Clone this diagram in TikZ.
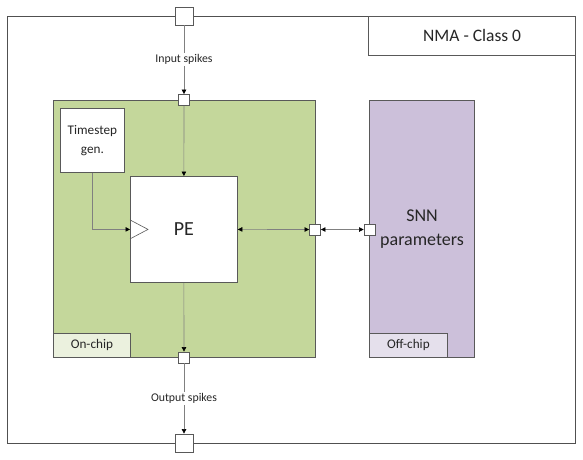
\documentclass[tikz,border=0pt]{standalone}
\usepackage{fontspec}
\setmainfont{Carlito}
\usetikzlibrary{arrows.meta,calc}
\definecolor{chipgreen}{RGB}{196,215,155}
\definecolor{chiplight}{RGB}{235,241,222}
\definecolor{offpurple}{RGB}{204,192,218}
\definecolor{offlight}{RGB}{229,224,236}
\definecolor{edge}{RGB}{89,89,89}
\definecolor{conn}{RGB}{128,128,128}
\definecolor{txt}{RGB}{38,38,38}
\tikzset{
  box/.style={draw=edge, line width=0.8pt, rectangle, inner sep=0pt, text=txt},
  port/.style={draw=edge, line width=0.8pt, fill=white, rectangle, inner sep=0pt, minimum width=#1, minimum height=#1},
  conline/.style={draw=conn, line width=0.6pt, -{Triangle[length=4.5pt,width=4.5pt]}, color=conn},
  tipblack/.style={arrows={-{Triangle[length=4.5pt,width=4.5pt,color=black]}}},
  bothtips/.style={draw=conn, line width=0.6pt, {Triangle[length=4.5pt,width=4.5pt,color=black]}-{Triangle[length=4.5pt,width=4.5pt,color=black]}},
  lbl/.style={fill=white, inner sep=1.5pt, text=txt, font=\fontsize{11.8}{13}\selectfont}
}
\begin{document}
\begin{tikzpicture}[x=1pt,y=-1pt]
\useasboundingbox (0,0) rectangle (583,459);
% outer frame
\node[box, draw=edge!90!black, line width=1pt, anchor=north west, minimum width=568.5pt, minimum height=427pt] (frame) at (6.5,15.5) {};
\node[box, line width=0.8pt, anchor=north east, minimum width=207pt, minimum height=39pt, font=\fontsize{17.5}{20}\selectfont] (nma) at (frame.north east) {NMA - Class 0};
% on-chip region
\node[box, fill=chipgreen, anchor=north west, minimum width=262pt, minimum height=257pt] (green) at (53,100) {};
\node[box, fill=chiplight, anchor=south west, minimum width=77pt, minimum height=24pt, font=\fontsize{13.2}{15}\selectfont] (onchip) at (green.south west) {On-chip};
% off-chip region
\node[box, fill=offpurple, anchor=north west, minimum width=105pt, minimum height=257pt] (purple) at (369,100) {};
\node[box, fill=offlight, anchor=south west, minimum width=78pt, minimum height=24pt, font=\fontsize{13.2}{15}\selectfont] (offchip) at (purple.south west) {Off-chip};
\node[text=txt, align=center, font=\fontsize{18}{24}\selectfont] (snn) at (422,229.5) {SNN\\parameters};
% timestep and PE
\node[box, fill=white, anchor=north west, minimum width=64pt, minimum height=64pt, align=center, font=\fontsize{13.2}{19}\selectfont] (ts) at (60,108) {Timestep\\gen.};
\node[box, fill=white, anchor=north west, minimum width=107pt, minimum height=106pt, font=\fontsize{20}{22}\selectfont] (pe) at (130,176) {PE};
\draw[edge, line width=0.6pt] ($(pe.west)+(0,-9.5)$) -- ++(18,9.5) -- ++(-18,9.5);
% ports
\node[port=18pt] (topport) at (184,16) {};
\node[port=18pt] (botport) at (184,443) {};
\node[port=11pt] (inport) at (184,100) {};
\node[port=11pt] (outport) at (184,357.5) {};
\node[port=11pt] (rport) at (315,229.5) {};
\node[port=11pt] (pport) at (369.5,229.5) {};
% connectors
\draw[conline, tipblack] (topport.south) -- node[lbl] {Input spikes} (inport.north);
\draw[conline, tipblack] (inport.south) -- (pe.north);
\draw[conline, tipblack] (pe.south) -- (outport.north);
\draw[conline, tipblack] (outport.south) -- node[lbl] {Output spikes} (botport.north);
\draw[conline, tipblack] (ts.south) |- (pe.west);
\draw[bothtips] (pe.east) -- (rport.west);
\draw[bothtips] (rport.east) -- (pport.west);
\end{tikzpicture}
\end{document}
